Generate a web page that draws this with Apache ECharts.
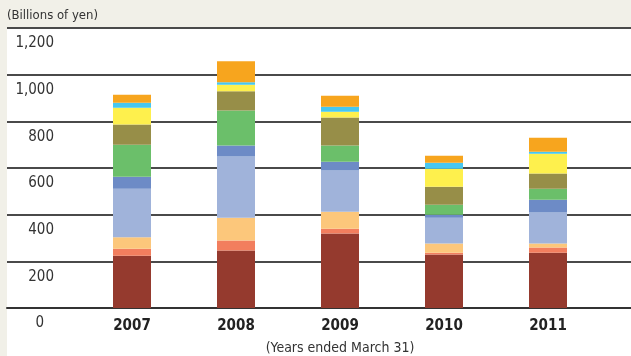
<!DOCTYPE html>
<html>
<head>
<meta charset="utf-8">
<script src="https://cdn.jsdelivr.net/npm/echarts@6/dist/echarts.min.js"></script>
<style>
  html, body { margin: 0; padding: 0; background: #F1F0E8; }
  #chart { width: 631px; height: 356px; }
</style>
</head>
<body>
<div id="chart"></div>
<script>
// Fiscal years (ended March 31)
const years = ['2007', '2008', '2009', '2010', '2011'];

// Stacked components, bottom to top (billions of yen)
const seg1  = [224, 246, 319, 229, 237];
const seg2  = [30, 43, 21, 8, 22];
const seg3  = [49, 98, 73, 39, 17];
const seg4  = [208, 262, 176, 111, 133];
const seg5  = [52, 47, 38, 13, 55];
const seg6  = [137, 150, 69, 43, 47];
const seg7  = [86, 83, 120, 77, 65];
const seg8  = [72, 28, 25, 77, 85];
const seg9  = [22, 10, 22, 26, 9];
const seg10 = [34, 90, 47, 30, 60];

const yTicks = [0, 200, 400, 600, 800, 1000, 1200];

const segments = [seg1, seg2, seg3, seg4, seg5, seg6, seg7, seg8, seg9, seg10];
const colors = ['#953A2E', '#F27E5E', '#FCC77B', '#A0B3DA', '#6D8BC6',
                '#6BBF6A', '#978E48', '#FEF04D', '#47C7F0', '#F7A51E'];

const FONT = '"DejaVu Sans Condensed", sans-serif';

const chart = echarts.init(document.getElementById('chart'), null, { renderer: 'canvas' });

const series = segments.map((data, i) => ({
  name: 'Component ' + (i + 1),
  type: 'bar',
  stack: 'total',
  xAxisIndex: 0,
  yAxisIndex: 0,
  barWidth: 38,
  itemStyle: { color: colors[i] },
  emphasis: { disabled: true },
  data: data
}));

chart.setOption({
  animation: false,
  backgroundColor: '#F1F0E8',
  textStyle: { fontFamily: FONT },
  title: {
    text: '(Billions of yen)',
    left: 7,
    top: 9,
    padding: 0,
    textStyle: { fontFamily: FONT, fontSize: 13, fontWeight: 'normal', color: '#333' }
  },
  graphic: [{
    type: 'rect',
    z: -10,
    silent: true,
    shape: { x: 7, y: 28, width: 624, height: 328 },
    style: { fill: '#FFFFFF' }
  }],
  grid: [
    // bars
    { left: 80, right: 31, top: 28, bottom: 48, outerBoundsMode: 'none', containLabel: false },
    // full-width gridlines and value labels
    { left: 7, right: 0, top: 28, bottom: 48, outerBoundsMode: 'none', containLabel: false }
  ],
  xAxis: [
    {
      type: 'category',
      gridIndex: 0,
      data: years,
      axisLine: { show: false },
      axisTick: { show: false },
      axisLabel: {
        margin: 11,
        fontFamily: FONT,
        fontSize: 15,
        fontWeight: 'bold',
        color: '#222'
      },
      name: '(Years ended March 31)',
      nameLocation: 'middle',
      nameGap: 33,
      nameTextStyle: { fontFamily: FONT, fontSize: 14, color: '#333' }
    },
    {
      type: 'value',
      gridIndex: 1,
      min: 0,
      max: 1,
      axisLine: { show: true, lineStyle: { color: '#333', width: 2 } },
      axisTick: { show: false },
      axisLabel: { show: false },
      splitLine: { show: false }
    }
  ],
  yAxis: [
    {
      type: 'value',
      gridIndex: 0,
      min: 0,
      max: 1200,
      interval: 200,
      show: false,
      splitLine: { show: false }
    },
    {
      type: 'value',
      gridIndex: 1,
      min: yTicks[0],
      max: yTicks[yTicks.length - 1],
      interval: 200,
      axisLine: { show: false },
      axisTick: { show: false },
      splitLine: { show: true, lineStyle: { color: '#4a4a4a', width: 2 } },
      axisLabel: {
        inside: true,
        align: 'right',
        verticalAlign: 'top',
        margin: 47,
        padding: [8, 0, 0, 0],
        fontFamily: FONT,
        fontSize: 15,
        color: '#333',
        formatter: v => v === 0 ? '{z|0}' : v.toLocaleString('en-US'),
        rich: {
          z: { fontFamily: FONT, fontSize: 15, color: '#333', padding: [0, 10, 0, 0] }
        }
      }
    }
  ],
  series: series
});
</script>
</body>
</html>
